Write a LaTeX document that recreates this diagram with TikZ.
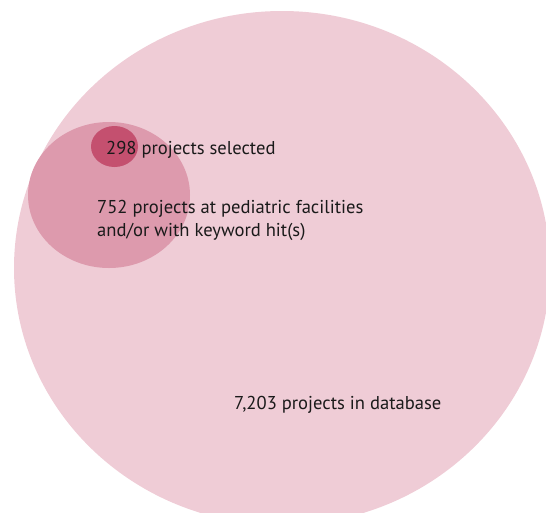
\documentclass[tikz,border=0pt]{standalone}
\usepackage{fontspec}
\setmainfont{PT Sans}
\usetikzlibrary{shapes.geometric}
\definecolor{dbpink}{HTML}{EFCCD6}
\definecolor{facpink}{HTML}{DD9AAD}
\definecolor{selpink}{HTML}{C4506F}
\definecolor{txt}{HTML}{1A1A1A}
\tikzset{
  setshape/.style={ellipse, draw=none, inner sep=0pt},
  label text/.style={anchor=base west, inner sep=0pt, text=txt, font=\fontsize{18.6}{23}\selectfont, align=left}
}
\begin{document}
\begin{tikzpicture}[x=1pt,y=-1pt]
\useasboundingbox (0,0) rectangle (546,512);
\clip (0,0) rectangle (546,512);
\node[setshape, fill=dbpink, minimum width=536pt, minimum height=514pt] (db) at (282,268) {};
\node[setshape, fill=facpink, minimum width=162pt, minimum height=146pt] (fac) at (109,195) {};
\node[setshape, fill=selpink, minimum width=47pt, minimum height=41pt] (sel) at (114.5,146.5) {};
\node[label text] (selt) at (106,154) {298 projects selected};
\node[label text] (fact) at (97,236) {752 projects at pediatric facilities\\and/or with keyword hit(s)};
\node[label text] (dbt) at (234,409) {7,203 projects in database};
\end{tikzpicture}
\end{document}
